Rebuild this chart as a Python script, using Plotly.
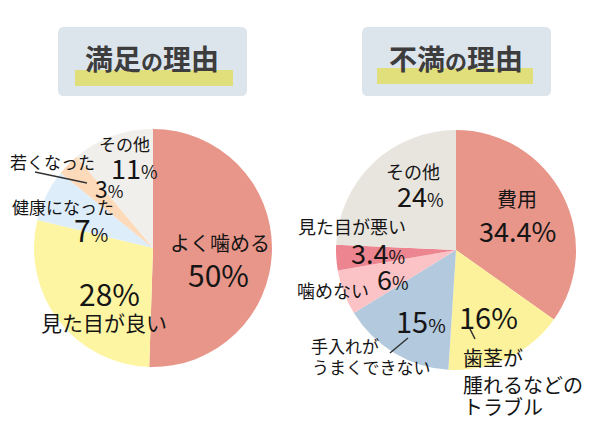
import plotly.graph_objects as go

W, H = 600, 424

# ---- data ----
sat_labels = ["よく噛める", "見た目が良い", "健康になった", "若くなった", "その他"]
sat_values = [50, 28, 7, 3, 11]
sat_colors = ["#E8968A", "#FEF5A3", "#DEEDFA", "#FDDABA", "#F1EFEB"]

dis_labels = ["費用", "歯茎が腫れるなどのトラブル", "手入れがうまくできない", "噛めない", "見た目が悪い", "その他"]
dis_values = [34.4, 16, 15, 6, 3.4, 24]
dis_colors = ["#E8968A", "#FCF29C", "#B3C9DD", "#FBC3C6", "#EC8590", "#E8E5DF"]

titles = ["満足の理由", "不満の理由"]

FONT = "Noto Sans CJK JP, Noto Sans, sans-serif"
TXT = "#151515"


def px(x):
    return x / W


def py(y):
    return 1 - y / H


def pie_domain(cx, cy, r):
    return dict(x=[px(cx - r), px(cx + r)], y=[py(cy + r), py(cy - r)])


fig = go.Figure()
fig.add_trace(go.Pie(labels=sat_labels, values=sat_values, sort=False, direction="clockwise",
                     rotation=0, marker=dict(colors=sat_colors, line=dict(width=0)),
                     textinfo="none", hoverinfo="label+value", showlegend=False,
                     domain=pie_domain(153, 248, 119)))
fig.add_trace(go.Pie(labels=dis_labels, values=dis_values, sort=False, direction="clockwise",
                     rotation=0, marker=dict(colors=dis_colors, line=dict(width=0)),
                     textinfo="none", hoverinfo="label+value", showlegend=False,
                     domain=pie_domain(456, 250, 120)))


def rrect(x0, y0, x1, y1, r):
    # rounded rectangle path in paper coords
    rx, ry = r / W, r / H
    X0, X1 = px(x0), px(x1)
    Y0, Y1 = py(y0), py(y1)  # Y0 top (larger)
    return (f"M{X0+rx},{Y0} L{X1-rx},{Y0} Q{X1},{Y0} {X1},{Y0-ry} "
            f"L{X1},{Y1+ry} Q{X1},{Y1} {X1-rx},{Y1} L{X0+rx},{Y1} "
            f"Q{X0},{Y1} {X0},{Y1+ry} L{X0},{Y0-ry} Q{X0},{Y0} {X0+rx},{Y0} Z")


shapes = []
# title boxes
for (x0, x1), (hx0, hx1, hy0, hy1) in [((58, 247), (75, 233, 70, 86)), ((362, 551), (377, 533, 68, 84))]:
    shapes.append(dict(type="path", xref="paper", yref="paper", path=rrect(x0, 27, x1, 96, 6),
                       fillcolor="#DCE4EC", line=dict(width=0), layer="below"))
    shapes.append(dict(type="rect", xref="paper", yref="paper", x0=px(hx0), x1=px(hx1),
                       y0=py(hy1), y1=py(hy0), fillcolor="#E0DF7C", line=dict(width=0), layer="below"))

# leader lines
for (xa, ya, xb, yb) in [(35, 172, 87, 183), (390, 353, 408, 338), (470, 329, 475, 339)]:
    shapes.append(dict(type="line", xref="paper", yref="paper", x0=px(xa), y0=py(ya),
                       x1=px(xb), y1=py(yb), line=dict(color="#333333", width=1.5)))

annotations = []


def ann(text, x, y, size, anchor="center", color=TXT, weight=400):
    annotations.append(dict(text=text, x=px(x), y=py(y), xref="paper", yref="paper",
                            xanchor=anchor, yanchor="middle", showarrow=False,
                            font=dict(family=FONT, size=size, color=color, weight=weight)))


def pct(v, small=None):
    s = f"{v:g}"
    if small:
        return f"{s}<span style='font-size:{small}px'>%</span>"
    return f"{s}%"


# titles
ann(f"<b>満足<span style='font-size:22px'>の</span>理由</b>", 152, 58, 28, color="#3d3d3d", weight=700)
ann(f"<b>不満<span style='font-size:22px'>の</span>理由</b>", 456, 58, 28, color="#3d3d3d", weight=700)

# left pie labels
ann(sat_labels[0], 220, 243, 20)
ann(pct(sat_values[0]), 218, 274, 30)
ann(pct(sat_values[1]), 109, 293, 30)
ann(sat_labels[1], 104, 322, 21)
ann(sat_labels[2], 63, 206, 17)
ann(pct(sat_values[2], 19), 91, 229, 30)
ann(sat_labels[3], 52, 161, 17)
ann(pct(sat_values[3], 17), 109, 188, 23)
ann(sat_labels[4], 124, 144, 17)
ann(pct(sat_values[4], 18), 134, 167, 27)

# right pie labels
ann(dis_labels[0], 517, 198, 20)
ann(pct(dis_values[0]), 517, 230, 27)
ann(pct(dis_values[1]), 488, 316, 29)
ann("歯茎が", 461, 357, 20, anchor="left")
ann("腫れるなどの", 461, 384, 20, anchor="left")
ann("トラブル", 461, 406, 20, anchor="left")
ann(pct(dis_values[2], 19), 421, 320, 29)
ann("手入れが", 309, 345, 17, anchor="left")
ann("うまくできない", 310, 366, 17, anchor="left")
ann(dis_labels[3], 333, 290, 18)
ann(pct(dis_values[3], 18), 393, 278, 27)
ann(dis_labels[4], 352, 226, 18)
ann(pct(dis_values[4], 18), 378, 252, 27)
ann(dis_labels[5], 413, 171, 18)
ann(pct(dis_values[5], 18), 420, 195, 27)

fig.update_layout(width=W, height=H, margin=dict(l=0, r=0, t=0, b=0),
                  paper_bgcolor="white", plot_bgcolor="white",
                  shapes=shapes, annotations=annotations,
                  font=dict(family=FONT))

fig.write_html("out.html", config={"displayModeBar": False})
